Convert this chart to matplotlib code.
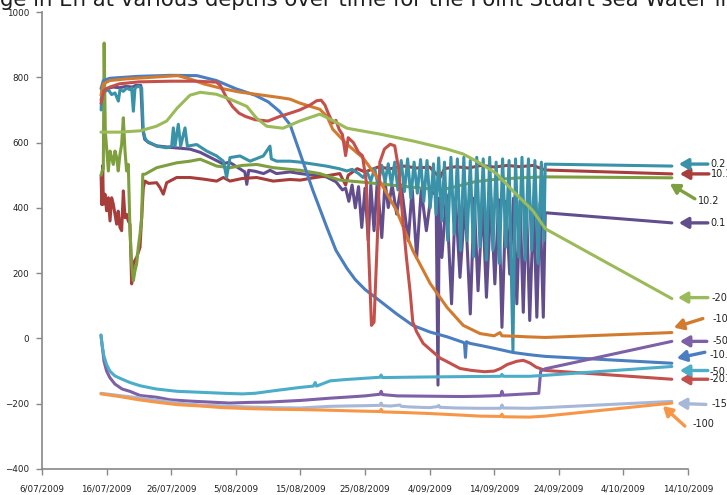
import numpy as np
import matplotlib
matplotlib.use('Agg')
import matplotlib.pyplot as plt
import matplotlib.dates as mdates
from matplotlib.transforms import offset_copy
from datetime import datetime, timedelta

inicio = datetime(2009, 7, 6)

# Eh (mV) por profundidade: (dias desde 6/07/2009, valor)
eh_01 = [(9.15, 730), (9.4, 760), (10.0, 765), (11.0, 770), (12.0, 768), (13.0, 772), (14.0, 770),
         (14.5, 775), (15.3, 775), (15.6, 640), (15.9, 610), (16.5, 600), (17.75, 590), (20.0, 585),
         (22.9, 580), (24.5, 570), (25.5, 560), (27.0, 545), (28.0, 535), (29.0, 540), (30.6, 520),
         (31.4, 510), (31.7, 472), (32.0, 515), (33.0, 512), (34.3, 505), (35.3, 515), (36.3, 505),
         (38.4, 510), (40.0, 505), (42.0, 500), (44.0, 495), (45.5, 480), (46.5, 455), (47.0, 460),
         (47.5, 420), (48.0, 470), (48.5, 400), (49.0, 465), (49.5, 340), (50.0, 460), (50.5, 300),
         (50.9, 470), (51.4, 330), (51.9, 480), (52.6, 309), (53.1, 480), (53.6, 401), (54.2, 470),
         (54.9, 381), (55.6, 470), (56.7, 299), (57.3, 460), (58.0, 248), (58.7, 455), (59.5, 330),
         (60.3, 450), (61.0, 440), (61.3, -143), (61.5, 430), (61.9, 248), (62.6, 440), (63.4, 106),
         (64.0, 430), (64.7, 187), (65.5, 420), (66.3, 75), (66.9, 430), (67.5, 146), (68.2, 420),
         (68.8, 126), (69.5, 430), (70.1, 167), (70.7, 425), (71.2, 34), (71.8, 420), (72.4, 197),
         (73.0, 430), (73.5, 106), (74.0, 420), (74.5, 80), (75.0, 415), (75.5, 55), (76.1, 420),
         (76.6, 65), (77.1, 415), (77.6, 65), (77.9, 385), (97.5, 354)]

eh_02 = [(9.15, 700), (9.3, 760), (9.5, 757), (9.75, 757), (10.27, 762), (10.78, 747), (11.3, 752),
         (11.82, 727), (12.07, 762), (12.59, 757), (13.1, 767), (13.62, 762), (13.88, 767), (14.14, 696),
         (14.4, 767), (14.91, 773), (15.43, 767), (15.68, 635), (15.94, 615), (16.2, 605), (17.75, 589),
         (19.3, 584), (20.07, 589), (20.33, 645), (20.59, 589), (21.1, 656), (21.46, 589), (22.14, 645),
         (22.5, 589), (23.94, 594), (25.49, 574), (27.04, 559), (28.07, 543), (28.58, 493), (29.1, 554),
         (30.65, 559), (32.2, 543), (34.26, 559), (35.29, 589), (35.5, 550), (36.32, 543), (38.4, 543),
         (40.0, 540), (42.0, 534), (44.0, 528), (46.0, 520), (47.2, 513), (48.0, 518), (49.0, 505),
         (49.7, 493), (50.3, 510), (50.9, 483), (51.5, 520), (52.0, 470), (52.6, 530), (53.1, 480),
         (53.6, 535), (54.1, 470), (54.6, 540), (55.1, 455), (55.6, 545), (56.1, 450), (56.6, 550),
         (57.1, 430), (57.6, 540), (58.1, 445), (58.6, 548), (59.1, 420), (59.6, 545), (60.1, 400),
         (60.6, 535), (61.0, 380), (61.4, 553), (61.9, 360), (62.3, 540), (62.8, 300), (63.3, 555),
         (63.8, 320), (64.3, 550), (64.8, 270), (65.3, 555), (65.8, 300), (66.3, 545), (66.8, 250),
         (67.3, 555), (67.8, 280), (68.3, 550), (68.8, 240), (69.3, 555), (69.8, 270), (70.3, 540),
         (70.8, 230), (71.3, 550), (71.8, 280), (72.3, 545), (72.9, -37), (73.3, 550), (73.8, 250),
         (74.3, 555), (74.8, 240), (75.3, 550), (75.8, 270), (76.3, 545), (76.8, 230), (77.3, 540),
         (77.7, 300), (77.9, 534), (97.5, 528)]

eh_101 = [(9.15, 500), (9.25, 410), (9.4, 530), (9.5, 411), (9.75, 442), (10.0, 391), (10.27, 431),
          (10.53, 360), (10.78, 431), (11.04, 411), (11.3, 380), (11.56, 350), (11.8, 390), (12.07, 340),
          (12.33, 330), (12.59, 452), (12.85, 370), (13.1, 380), (13.36, 360), (13.62, 350), (13.88, 167),
          (14.14, 228), (14.4, 240), (14.65, 248), (15.17, 279), (15.43, 370), (15.68, 462), (15.94, 482),
          (16.5, 475), (17.75, 477), (18.27, 462), (18.78, 442), (19.3, 477), (20.85, 493), (22.91, 493),
          (25.0, 488), (27.04, 482), (28.07, 493), (29.1, 482), (31.0, 490), (33.23, 493), (35.81, 482),
          (38.39, 487), (40.0, 485), (42.0, 492), (44.0, 498), (46.1, 505), (47.0, 470), (47.4, 500),
          (48.8, 520), (50.0, 510), (52.0, 525), (54.0, 520), (56.0, 528), (58.0, 522), (60.0, 525),
          (61.6, 492), (62.3, 520), (64.0, 526), (66.0, 522), (68.0, 530), (70.0, 525), (72.0, 530),
          (74.0, 526), (76.0, 530), (77.9, 516), (97.5, 504)]

eh_102 = [(9.15, 500), (9.3, 513), (9.49, 520), (9.62, 905), (9.8, 635), (10.01, 581), (10.27, 513),
          (10.53, 574), (10.78, 554), (11.04, 533), (11.3, 574), (11.56, 554), (11.8, 513), (12.07, 564),
          (12.33, 594), (12.59, 676), (12.85, 574), (13.1, 513), (13.36, 533), (13.62, 330), (13.88, 228),
          (14.14, 177), (14.4, 208), (14.65, 228), (14.9, 279), (15.17, 320), (15.43, 370), (15.6, 503),
          (15.94, 503), (17.75, 523), (20.85, 538), (22.91, 543), (24.5, 549), (27.04, 528), (29.1, 523),
          (31.0, 530), (33.23, 533), (35.81, 523), (38.39, 518), (40.0, 515), (43.0, 505), (46.1, 485),
          (50.0, 478), (54.0, 470), (58.0, 462), (61.6, 455), (63.0, 460), (65.0, 470), (67.0, 480),
          (70.0, 487), (74.0, 492), (77.9, 495), (97.5, 492)]

eh_m10_laranja = [(9.13, 745), (9.5, 780), (10.5, 790), (13.0, 795), (17.0, 800), (21.0, 805), (22.9, 795),
                  (25.0, 780), (28.0, 765), (30.5, 755), (33.1, 748), (36.8, 738), (38.4, 733), (39.9, 721),
                  (43.0, 702), (44.1, 681), (45.0, 641), (47.2, 595), (49.7, 553), (52.3, 482), (54.9, 391),
                  (57.4, 269), (60.1, 168), (62.7, 95), (65.2, 40), (67.8, 15), (70.0, 8), (70.9, 18),
                  (71.2, 8), (72.9, 7), (75.0, 5), (77.9, 3), (97.5, 18)]

eh_m10_azul = [(9.13, 765), (9.5, 790), (10.5, 797), (15.0, 803), (20.0, 806), (24.0, 805), (27.0, 790),
               (30.0, 765), (33.0, 745), (35.0, 725), (36.8, 695), (38.4, 655), (39.9, 570), (41.9, 455),
               (44.1, 340), (45.5, 270), (47.2, 215), (48.5, 180), (50.0, 150), (52.3, 115), (54.9, 75),
               (57.4, 40), (60.0, 20), (62.7, 5), (65.2, -12), (65.4, -15), (65.55, -58), (65.7, -10),
               (66.2, -15), (68.0, -22), (70.4, -32), (72.9, -43), (75.5, -50), (77.9, -55), (97.5, -76)]

eh_m20_vermelho = [(9.13, 720), (9.6, 760), (10.5, 770), (12.0, 780), (15.0, 786), (20.0, 788), (24.0, 788),
                   (27.0, 785), (27.6, 775), (28.5, 740), (29.5, 710), (30.5, 690), (31.5, 680), (33.0, 670),
                   (35.0, 666), (36.8, 680), (38.4, 690), (39.9, 700), (41.5, 715), (42.5, 728), (43.2, 730),
                   (43.8, 715), (44.3, 690), (45.0, 660), (45.5, 668), (46.0, 640), (46.5, 625), (47.0, 560),
                   (47.4, 615), (48.2, 600), (49.0, 570), (49.6, 560), (50.2, 480), (50.6, 250), (51.0, 40),
                   (51.4, 50), (51.9, 300), (52.3, 540), (53.0, 580), (53.9, 595), (54.6, 590), (55.2, 520),
                   (55.7, 400), (56.4, 250), (57.0, 140), (57.4, 50), (58.0, 20), (59.0, -15), (61.6, -60),
                   (62.6, -70), (64.7, -92), (66.5, -98), (68.5, -102), (70.0, -100), (71.0, -92), (72.0, -80),
                   (73.5, -70), (74.5, -67), (75.5, -75), (76.5, -88), (77.9, -98), (97.5, -125)]

eh_m20_verde = [(9.13, 632), (12.0, 632), (15.2, 636), (17.7, 650), (19.3, 666), (20.9, 705), (22.9, 745),
                (24.5, 754), (27.0, 748), (29.1, 733), (31.7, 711), (33.2, 675), (34.8, 650), (37.3, 644),
                (39.9, 666), (43.0, 687), (44.6, 672), (47.2, 644), (52.3, 626), (57.4, 605), (62.7, 580),
                (65.2, 565), (67.8, 537), (70.4, 504), (72.9, 452), (76.0, 391), (77.6, 345), (78.0, 335),
                (97.5, 122)]

eh_m50_roxo = [(9.13, 10), (9.3, -20), (9.6, -70), (10.0, -100), (10.5, -120), (11.3, -140), (12.4, -155),
               (13.6, -162), (15.2, -175), (17.7, -180), (19.8, -188), (22.9, -192), (26.0, -195), (29.0, -198),
               (32.0, -196), (35.0, -195), (38.0, -192), (40.0, -190), (42.0, -187), (44.6, -183), (47.0, -180),
               (50.0, -176), (52.3, -171), (52.5, -162), (52.7, -172), (55.0, -176), (60.0, -177), (65.0, -178),
               (67.8, -177), (71.0, -175), (71.2, -162), (71.4, -174), (74.0, -171), (76.9, -168), (77.2, -100),
               (77.9, -93), (97.5, -9)]

eh_m50_ciano = [(9.13, 10), (9.3, -20), (9.6, -55), (10.0, -80), (10.5, -100), (11.3, -115), (12.4, -125),
                (13.6, -135), (15.2, -145), (17.7, -155), (20.9, -162), (24.5, -165), (28.0, -168), (31.0, -170),
                (33.0, -168), (36.0, -160), (38.0, -155), (40.0, -150), (42.0, -146), (42.3, -135), (42.5, -146),
                (44.6, -130), (47.0, -126), (50.0, -122), (52.3, -119), (52.5, -112), (52.7, -120), (56.0, -119),
                (60.0, -118), (65.0, -117), (71.0, -116), (71.2, -110), (71.4, -116), (75.5, -116), (77.9, -113),
                (97.5, -86)]

eh_m15 = [(9.13, -168), (12.0, -175), (15.0, -182), (18.0, -190), (21.0, -198), (24.5, -204), (28.0, -207),
          (32.0, -210), (36.0, -212), (40.0, -213), (44.6, -208), (47.0, -207), (50.0, -206), (52.3, -205),
          (52.5, -198), (52.7, -206), (54.0, -207), (55.4, -204), (55.6, -208), (57.0, -210), (60.0, -212),
          (61.2, -209), (61.4, -205), (61.6, -211), (64.0, -213), (67.8, -214), (71.0, -214), (71.2, -204),
          (71.4, -213), (75.5, -214), (77.9, -212), (97.5, -193)]

eh_m100 = [(9.13, -170), (12.0, -178), (15.0, -188), (18.0, -196), (21.0, -203), (24.5, -207), (28.0, -212),
           (32.0, -215), (36.0, -217), (40.0, -218), (44.6, -220), (48.0, -222), (52.3, -224), (52.5, -217),
           (52.7, -225), (56.0, -227), (60.0, -230), (64.0, -234), (67.8, -238), (71.0, -239), (71.2, -232),
           (71.4, -240), (75.5, -241), (77.9, -238), (97.5, -198)]

# nome, dados, cor, (ponta da seta dx,dy), (cauda dx,dy), (texto dx,dy) em pixels
series = [
    ('0.1', eh_01, '#624E8D', (7, 0), (29, 0), (32, 0)),
    ('10.1', eh_101, '#A83E3B', (8, 0), (29, 0), (31, 0)),
    ('10.2', eh_102, '#7E9F3D', (-2, -6), (25, -15), (28, -17)),
    ('0.2', eh_02, '#3A92A8', (7, 2), (29, 0), (32, 0)),
    ('-10.', eh_m10_azul, '#4A7EC0', (5, 5), (28, 6), (33, 3)),
    ('-10', eh_m10_laranja, '#D27B2F', (2, 5), (29, 9), (39, 9)),
    ('-20.', eh_m20_vermelho, '#C4504C', (8, 0), (28, 0), (30, 0)),
    ('-20.', eh_m20_verde, '#9BBB59', (6, 1), (30, 0), (34, 0)),
    ('-50', eh_m50_roxo, '#7D60A6', (8, 0), (27, 0), (33, 0)),
    ('-50.', eh_m50_ciano, '#4BADC7', (8, -4), (28, 0), (30, -1)),
    ('-15', eh_m15, '#A6B7D8', (5, -2), (29, -1), (35, -1)),
    ('-100', eh_m100, '#F79646', (-9, -3), (22, -20), (30, -18)),
]

fig = plt.figure(figsize=(7.27, 4.95), dpi=100)
ax = fig.add_axes([42 / 727, 26 / 495, 646 / 727, 457 / 495])

for i, (nome, dados, cor, ponta, cauda, txt) in enumerate(series):
    dias = [inicio + timedelta(days=d) for d, _ in dados]
    vals = [v for _, v in dados]
    ax.plot(dias, vals, color=cor, lw=2.2, solid_joinstyle='round', solid_capstyle='round', zorder=2 + i)
    fim = (mdates.date2num(dias[-1]), vals[-1])
    tr = offset_copy(ax.transData, fig=fig, x=ponta[0], y=ponta[1], units='dots')
    ax.annotate('', xy=fim, xycoords=tr, xytext=cauda, textcoords='offset pixels',
                arrowprops=dict(arrowstyle='-|>,head_length=0.55,head_width=0.32', color=cor, lw=2.4,
                                shrinkA=0, shrinkB=0, mutation_scale=10),
                annotation_clip=False)
    ax.annotate(nome, xy=fim, xycoords=tr, xytext=txt, textcoords='offset pixels',
                ha='left', va='center', fontsize=7, color='#222222', annotation_clip=False)

ax.set_xlim(inicio, inicio + timedelta(days=100))
ax.set_ylim(-400, 1000)
ax.set_yticks(range(-400, 1001, 200))
ax.set_xticks([inicio + timedelta(days=10 * k) for k in range(11)])
ax.xaxis.set_major_formatter(mdates.DateFormatter('%-d/%m/%Y'))

for lado in ['top', 'right']:
    ax.spines[lado].set_visible(False)
for lado in ['left', 'bottom']:
    ax.spines[lado].set_color('#888888')
    ax.spines[lado].set_linewidth(1.2)
ax.tick_params(axis='both', direction='out', length=4, width=1, color='#888888',
               labelsize=6.3, labelcolor='#222222')
ax.tick_params(axis='x', pad=7)
ax.tick_params(axis='y', pad=5)

# titulo cortado no topo, como no original
fig.text(0.0, 1 - 6 / 495, 'ge in Eh at various depths over time for the Point Stuart sea Water in',
         fontsize=15.3, ha='left', va='baseline', color='#1e1e1e')

fig.savefig('out.png', dpi=100)
